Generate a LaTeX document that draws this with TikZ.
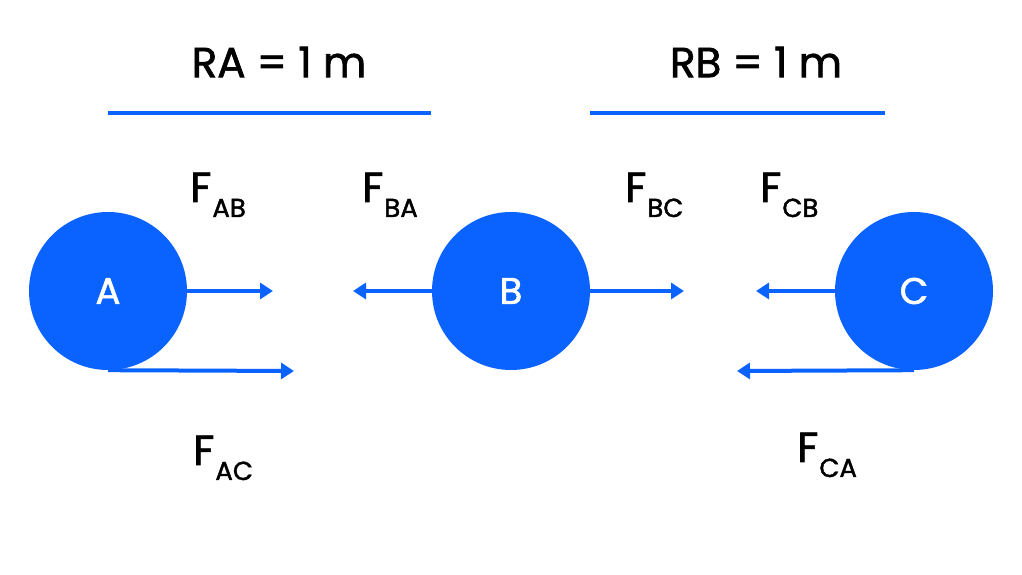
\documentclass[tikz,border=0pt]{standalone}
\usepackage{fontspec}
\setmainfont{Poppins}[FakeBold=1.6]
\usetikzlibrary{arrows.meta}
\definecolor{ballblue}{HTML}{0B63FF}
\newcommand{\force}[2]{F\kern1pt\raisebox{-15pt}{\fontsize{26}{26}\selectfont #1#2}}
\begin{document}
\begin{tikzpicture}[x=1pt,y=1pt,
    ball/.style={circle,fill=ballblue,text=white,minimum size=158pt,inner sep=0pt,font=\fontsize{37}{37}\selectfont},
    vec/.style={draw=ballblue,line width=4pt,-{Triangle[length=13pt,width=16pt]}},
    span/.style={draw=ballblue,line width=4pt},
    lbl/.style={anchor=base west,inner sep=0pt,font=\fontsize{42}{42}\selectfont}]
    \useasboundingbox (0,0) rectangle (1022,575);
    % distances
    \node (ra) at (279, 513) [font=\fontsize{42}{42}\selectfont] {RA = 1 m};
    \node (rb) at (756, 513) [font=\fontsize{42}{42}\selectfont] {RB = 1 m};
    \coordinate (ra1) at (108, 462);
    \coordinate (ra2) at (431, 462);
    \coordinate (rb1) at (590, 462);
    \coordinate (rb2) at (885, 462);
    \draw[span] (ra1) -- (ra2);
    \draw[span] (rb1) -- (rb2);
    % charges
    \node (A) at (108, 284) [ball] {A};
    \node (B) at (511, 284) [ball] {B};
    \node (C) at (914, 284) [ball] {C};
    % arrow ends
    \coordinate (ab) at (273, 284);
    \coordinate (ba) at (353, 284);
    \coordinate (bc) at (684, 284);
    \coordinate (cb) at (756, 284);
    \coordinate (ac) at (294, 204);
    \coordinate (ca) at (737, 204);
    \draw[vec] (A.east) -- (ab);
    \draw[vec] (B.west) -- (ba);
    \draw[vec] (B.east) -- (bc);
    \draw[vec] (C.west) -- (cb);
    \draw[vec] (A.south) -- (ac);
    \draw[vec] (C.south) -- (ca);
    % force labels
    \node (fab) at (190, 373) [lbl] {\force AB};
    \node (fba) at (362, 373) [lbl] {\force BA};
    \node (fbc) at (625, 373) [lbl] {\force BC};
    \node (fcb) at (760, 373) [lbl] {\force CB};
    \node (fac) at (193, 110) [lbl] {\force AC};
    \node (fca) at (797, 113) [lbl] {\force CA};
\end{tikzpicture}
\end{document}
